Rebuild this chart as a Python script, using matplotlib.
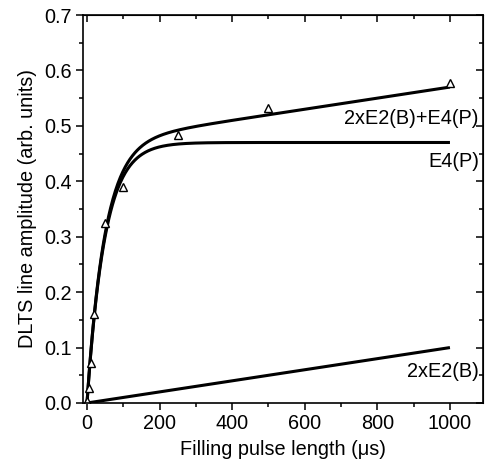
import numpy as np
import matplotlib
matplotlib.use("Agg")
import matplotlib.pyplot as plt
from matplotlib.ticker import MultipleLocator

plt.rcParams['font.family'] = ['Liberation Sans', 'DejaVu Sans']

# Measured DLTS amplitudes vs filling pulse length
pulse_us = [1, 5, 10, 20, 50, 100, 250, 500, 1000]
amplitude = [0.003, 0.027, 0.072, 0.16, 0.325, 0.39, 0.484, 0.532, 0.577]

# Fit parameters: E4(P) saturating capture, 2xE2(B) linear growth
e4_amp = 0.47
e4_tau = 49.0
e2_slope = 1.0e-4
fit_tmax = 1000

curve_labels = ["2xE2(B)+E4(P)", "E4(P)", "2xE2(B)"]
label_y = [0.514, 0.435, 0.056]

x_ticks = [0, 200, 400, 600, 800, 1000]
y_ticks = [0.0, 0.1, 0.2, 0.3, 0.4, 0.5, 0.6, 0.7]

t = np.linspace(0, fit_tmax, 600)
e4 = e4_amp * (1 - np.exp(-t / e4_tau))
e2 = e2_slope * t

fs = 14.3
fig = plt.figure(figsize=(4.86, 4.63), dpi=100)
ax = fig.add_axes([0.1708, 0.1296, 0.8230, 0.8380])

lw = 2.2
ax.plot(t, e4 + e2, color='black', lw=lw, solid_capstyle='butt')
ax.plot(t, e4, color='black', lw=lw, solid_capstyle='butt')
ax.plot(t, e2, color='black', lw=lw, solid_capstyle='butt')
ax.plot(pulse_us, amplitude, linestyle='none', marker='^', markersize=5.8,
        markerfacecolor='white', markeredgecolor='black', markeredgewidth=1.0)

for txt, yv in zip(curve_labels, label_y):
    ax.text(1080, yv, txt, ha='right', va='center', fontsize=fs)

ax.set_xlim(-11, 1091)
ax.set_ylim(0, 0.7)
ax.set_xticks(x_ticks)
ax.set_yticks(y_ticks)
ax.set_yticklabels([f"{v:.1f}" for v in y_ticks])
ax.xaxis.set_minor_locator(MultipleLocator(100))
ax.yaxis.set_minor_locator(MultipleLocator(0.05))

for s in ax.spines.values():
    s.set_linewidth(1.2)

ax.tick_params(axis='both', which='both', labelsize=fs, width=1.1)
ax.tick_params(axis='both', which='major', length=5, pad=3)
ax.tick_params(axis='both', which='minor', length=3)
ax.tick_params(axis='both', which='both', direction='out')

# inward ticks on the top and right edges
sec_x = ax.secondary_xaxis('top')
sec_x.set_xticks(x_ticks)
sec_x.xaxis.set_minor_locator(MultipleLocator(100))
sec_x.tick_params(which='both', direction='in', labeltop=False, width=1.1)
sec_x.tick_params(which='major', length=5)
sec_x.tick_params(which='minor', length=3)
sec_y = ax.secondary_yaxis('right')
sec_y.set_yticks(y_ticks)
sec_y.yaxis.set_minor_locator(MultipleLocator(0.05))
sec_y.tick_params(which='both', direction='in', labelright=False, width=1.1)
sec_y.tick_params(which='major', length=5)
sec_y.tick_params(which='minor', length=3)

ax.set_xlabel("Filling pulse length (\u03bcs)", fontsize=fs, labelpad=5)
ax.set_ylabel("DLTS line amplitude (arb. units)", fontsize=fs, labelpad=5)

fig.savefig("out.png", dpi=100)
